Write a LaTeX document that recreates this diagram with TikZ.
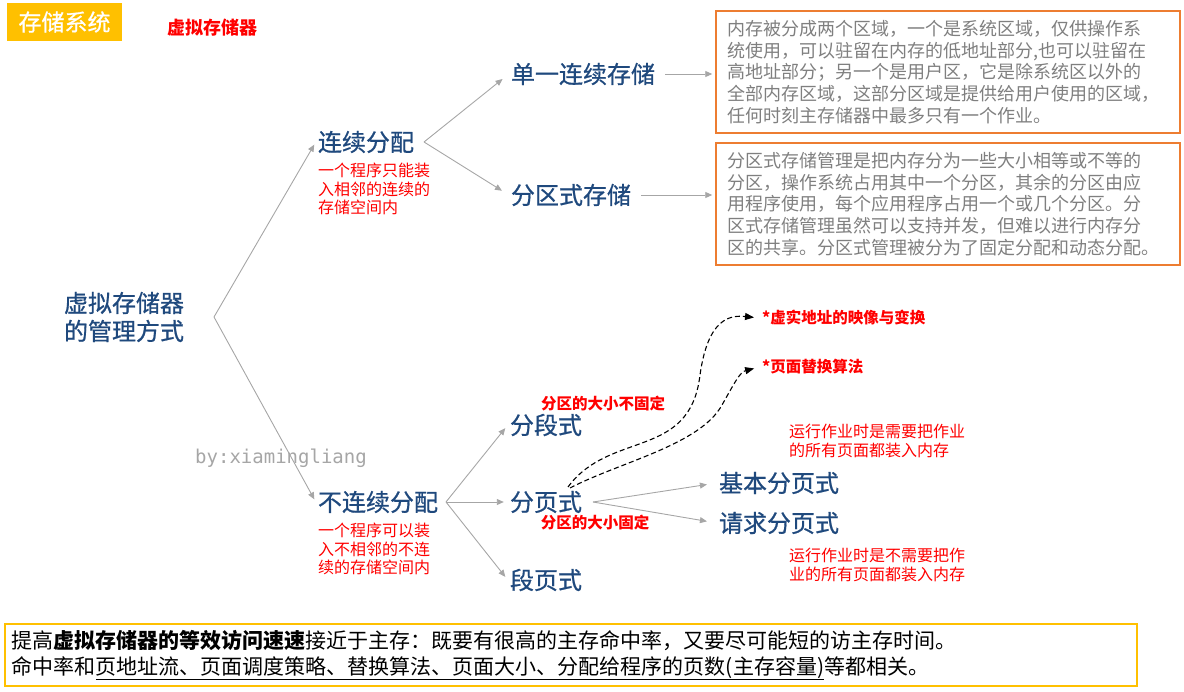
\documentclass[tikz,border=0pt]{standalone}
\usepackage{fontspec}
\setmainfont{Noto Sans CJK SC}
\newfontfamily\topicfont{Noto Sans CJK SC}[FakeBold=0.7]
\newfontfamily\monofont{DejaVu Sans Mono}
\usepackage{xcolor}
\usetikzlibrary{arrows.meta}
\definecolor{titleyellow}{HTML}{FFC000}
\definecolor{labelblue}{HTML}{1F497D}
\definecolor{boxorange}{HTML}{ED7D31}
\definecolor{linkgray}{HTML}{A6A6A6}
\definecolor{textgray}{HTML}{7F7F7F}

\begin{document}
\begin{tikzpicture}[x=1pt,y=-1pt,
    link/.style={draw=linkgray,line width=0.9pt,-{Triangle[length=7pt,width=6pt]},shorten >=3pt},
    hint/.style={-{Triangle[length=9pt,width=7pt]},dash pattern=on 5pt off 3pt,black,line width=1.1pt,shorten >=6pt}]
    \tikzstyle{topic}=[text=labelblue,font=\topicfont\fontsize{24}{28}\selectfont,inner sep=2pt]
    \tikzstyle{note}=[text=red,font=\fontsize{16}{18.5}\selectfont,align=left,inner sep=2pt,anchor=west]
    \tikzstyle{redmark}=[text=red,font=\bfseries\fontsize{15.5}{18}\selectfont,inner sep=2pt]
    \tikzstyle{descbox}=[draw=boxorange,line width=1.5pt,text=textgray,font=\fontsize{18}{21.75}\selectfont,
        text width=442pt,inner xsep=11pt,minimum height=122pt,align=left]
    \useasboundingbox (0,0) rectangle (1184,692);

    \node [fill=titleyellow,text=white,minimum width=115pt,minimum height=38pt,font=\topicfont\fontsize{23}{26}\selectfont] (T) at (64.5,22) {存储系统};
    \node [text=red,font=\bfseries\fontsize{18}{20}\selectfont] (V) at (212,28) {虚拟存储器};

    \node [topic, align=left] (R) at (124,317) {虚拟存储器\\的管理方式};
    \node [topic] (L) at (366,142) {连续分配};
    \node [topic] (N) at (378,502) {不连续分配};
    \node [topic] (D) at (583,74) {单一连续存储};
    \node [topic] (Q) at (571,195) {分区式存储};
    \node [topic] (S) at (546,425) {分段式};
    \node [topic] (P) at (546,502) {分页式};
    \node [topic] (SP) at (546,580) {段页式};
    \node [topic] (PB) at (779,483) {基本分页式};
    \node [topic] (PQ) at (779,523) {请求分页式};

    \node [note] at (316,189) {一个程序只能装\\入相邻的连续的\\存储空间内};
    \node [note] at (316,549) {一个程序可以装\\入不相邻的不连\\续的存储空间内};
    \node [note] at (787,441) {运行作业时是需要把作业\\的所有页面都装入内存};
    \node [note] at (787,565) {运行作业时是不需要把作\\业的所有页面都装入内存};

    \node [redmark] at (603,404) {分区的大小不固定};
    \node [redmark] at (595,523) {分区的大小固定};
    \node [redmark, anchor=west] (X) at (760,318) {*虚实地址的映像与变换};
    \node [redmark, anchor=west] (H) at (760,367) {*页面替换算法};

    \node [text=linkgray,font=\monofont\fontsize{19}{22}\selectfont] (W) at (281,458) {by:xiamingliang};

    \node [descbox] (B1) at (948,72) {内存被分成两个区域，一个是系统区域，仅供操作系\\统使用，可以驻留在内存的低地址部分,也可以驻留在\\高地址部分；另一个是用户区，它是除系统区以外的\\全部内存区域，这部分区域是提供给用户使用的区域，\\任何时刻主存储器中最多只有一个作业。};
    \node [descbox] (B2) at (948,204) {分区式存储管理是把内存分为一些大小相等或不等的\\分区，操作系统占用其中一个分区，其余的分区由应\\用程序使用，每个应用程序占用一个或几个分区。分\\区式存储管理虽然可以支持并发，但难以进行内存分\\区的共享。分区式管理被分为了固定分配和动态分配。};

    \node [draw=titleyellow,line width=1.5pt,text width=1118pt,inner xsep=7pt,minimum height=62pt,align=left,
        font=\fontsize{21}{26}\selectfont] (F) at (571,655)
        {提高\textbf{虚拟存储器的等效访问速速}接近于主存：既要有很高的主存命中率，又要尽可能短的访主存时间。\\
         命中率和\underline{页地址流、页面调度策略、替换算法、页面大小、分配给程序的页数(主存容量)}等都相关。};

    \coordinate (r) at (214,317);
    \coordinate (l) at (424,142);
    \coordinate (n) at (446,502);
    \coordinate (p) at (593,502);
    \coordinate (h1) at (568,487);
    \coordinate (h2) at (570,488);

    \draw [link] (r) -- (L.west);
    \draw [link] (r) -- (N.west);
    \draw [link, shorten >=8pt] (l) -- (D.west);
    \draw [link, shorten >=8pt] (l) -- (Q.west);
    \draw [link, shorten <=8pt] (D.east) -- (D.east -| B1.west);
    \draw [link, shorten <=8pt] (Q.east) -- (Q.east -| B2.west);
    \draw [link, shorten >=4pt] (n) -- (S.west);
    \draw [link, shorten >=4pt] (n) -- (P.west);
    \draw [link, shorten >=4pt] (n) -- (SP.west);
    \draw [link, shorten >=10pt] (p) -- (PB.west);
    \draw [link, shorten >=10pt] (p) -- (PQ.west);

    \draw [hint] (h1) .. controls (610,430) and (690,460) .. (700,375) .. controls (708,318) and (730,315) .. (X.west);
    \draw [hint] (h2) .. controls (620,462) and (700,445) .. (722,405) .. controls (735,382) and (740,372) .. (H.west);
\end{tikzpicture}
\end{document}
